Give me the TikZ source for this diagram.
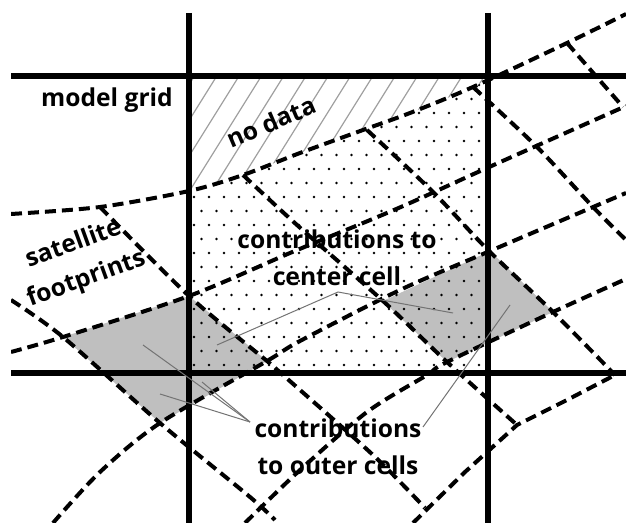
\documentclass[tikz,border=0pt]{standalone}
\usepackage{fontspec}
\setmainfont{Open Sans}
\begin{document}
\begin{tikzpicture}[x=0.5pt,y=-0.5pt,
  font={\fontsize{12.3}{18.5}\selectfont\bfseries},
  footprint/.style={line width=2pt,dash pattern=on 5.5pt off 3pt},
  gridline/.style={line width=3.2pt},
  leader/.style={line width=0.5pt,black!55},
  lbl/.style={align=center,inner sep=0pt}]
  \useasboundingbox (0,0) rectangle (626,523);
  % ---------------- filled footprints ----------------
  \fill[gray!50] (63,337) -- (189,296) -- (267,361) -- (160,423) -- cycle;
  \fill[gray!50] (383,301) -- (490,251) -- (553,312) -- (447,362) -- cycle;
  % ---------------- no data (hatched) ----------------
  \begin{scope}
    \clip (189,76) rectangle (488,373);
    \clip plot[smooth] coordinates {(11,214) (100,207) (189,191) (243,175) (300,153) (363,130) (410,113) (473,87) (567,43) (626,14)} -- (626,0) -- (11,0) -- cycle;
    \foreach \h in {-5,...,12}
      \draw[gray!75,line width=0.6pt] ({415-22.3*\h-100},240) -- ({415-22.3*\h+30},32);
  \end{scope}
  % ---------------- center cell (dotted) ----------------
  \begin{scope}
    \clip (189,76) rectangle (488,373);
    \clip plot[smooth] coordinates {(11,214) (100,207) (189,191) (243,175) (300,153) (363,130) (410,113) (473,87) (567,43) (626,14)} -- (626,523) -- (11,523) -- cycle;
    \foreach \r in {0,...,21}
      \foreach \c in {0,...,20}
        \fill ({194+15*\c+7.5*mod(\r,2)},{85+14*\r}) circle (0.65pt);
  \end{scope}
  % ---------------- satellite footprints ----------------
  \begin{scope}
    \clip (11,0) rectangle (626,523);
    % scan lines
    \draw[footprint] plot[smooth] coordinates {(11,214) (100,207) (189,191) (243,175) (300,153) (363,130) (410,113) (473,87) (567,43) (626,14)};
    \draw[footprint] plot[smooth] coordinates {(11,352) (63,337) (189,296) (290,253) (363,223) (410,203) (487,168) (626,106)};
    \draw[footprint] plot[smooth] coordinates {(53,523) (100,472) (160,423) (267,361) (300,341) (400,290) (490,251) (626,193)};
    \draw[footprint] plot[smooth] coordinates {(245,523) (300,470) (367,412) (427,375) (447,362) (553,312) (626,279)};
    \draw[footprint] (413,523) -- (465,472) -- (517,425) -- (567,400) -- (615,375);
    % cross lines
    \draw[footprint] plot[smooth] coordinates {(11,300) (63,337) (160,423) (250,497) (275,520)};
    \draw[footprint] plot[smooth] coordinates {(100,207) (189,296) (267,361) (283,375) (373,455) (425,508)};
    \draw[footprint] plot[smooth] coordinates {(243,175) (297,225) (383,301) (447,362) (517,425)};
    \draw[footprint] plot[smooth] coordinates {(367,130) (433,192) (487,249) (553,312) (615,375)};
    \draw[footprint] plot[smooth] coordinates {(473,87) (537,147) (593,207) (626,240)};
    \draw[footprint] (567,43) -- (623,107);
  \end{scope}
  % ---------------- model grid ----------------
  \draw[gridline] (189,13) -- (189,523);
  \draw[gridline] (488,13) -- (488,523);
  \draw[gridline] (11,76) -- (626,76);
  \draw[gridline] (11,373) -- (626,373);
  % ---------------- labels ----------------
  \node[lbl] (gridlbl) at (107,100) {model grid};
  \node[lbl,rotate=23] (nodatalbl) at (271,122) {no data};
  \node[lbl,rotate=20] (swathlbl) at (80,262) {satellite\\footprints};
  \node[lbl] (centerlbl) at (337,258) {contributions to\\center cell};
  \node[lbl] (outerlbl) at (338,447) {contributions\\to outer cells};
  % ---------------- leaders ----------------
  \coordinate (cjoin) at (338,292);
  \coordinate (cleft) at (217,345);
  \coordinate (cright) at (453,313);
  \draw[leader] (cleft) -- (cjoin) -- (cright);
  \coordinate (ojoin) at (250,422);
  \coordinate (oright) at (423,427);
  \coordinate (oa) at (143,345);
  \coordinate (ob) at (160,394);
  \coordinate (oc) at (202,382);
  \coordinate (od) at (510,305);
  \draw[leader] (ojoin) -- (oa);
  \draw[leader] (ojoin) -- (ob);
  \draw[leader] (ojoin) -- (oc);
  \draw[leader] (oright) -- (od);
\end{tikzpicture}
\end{document}
